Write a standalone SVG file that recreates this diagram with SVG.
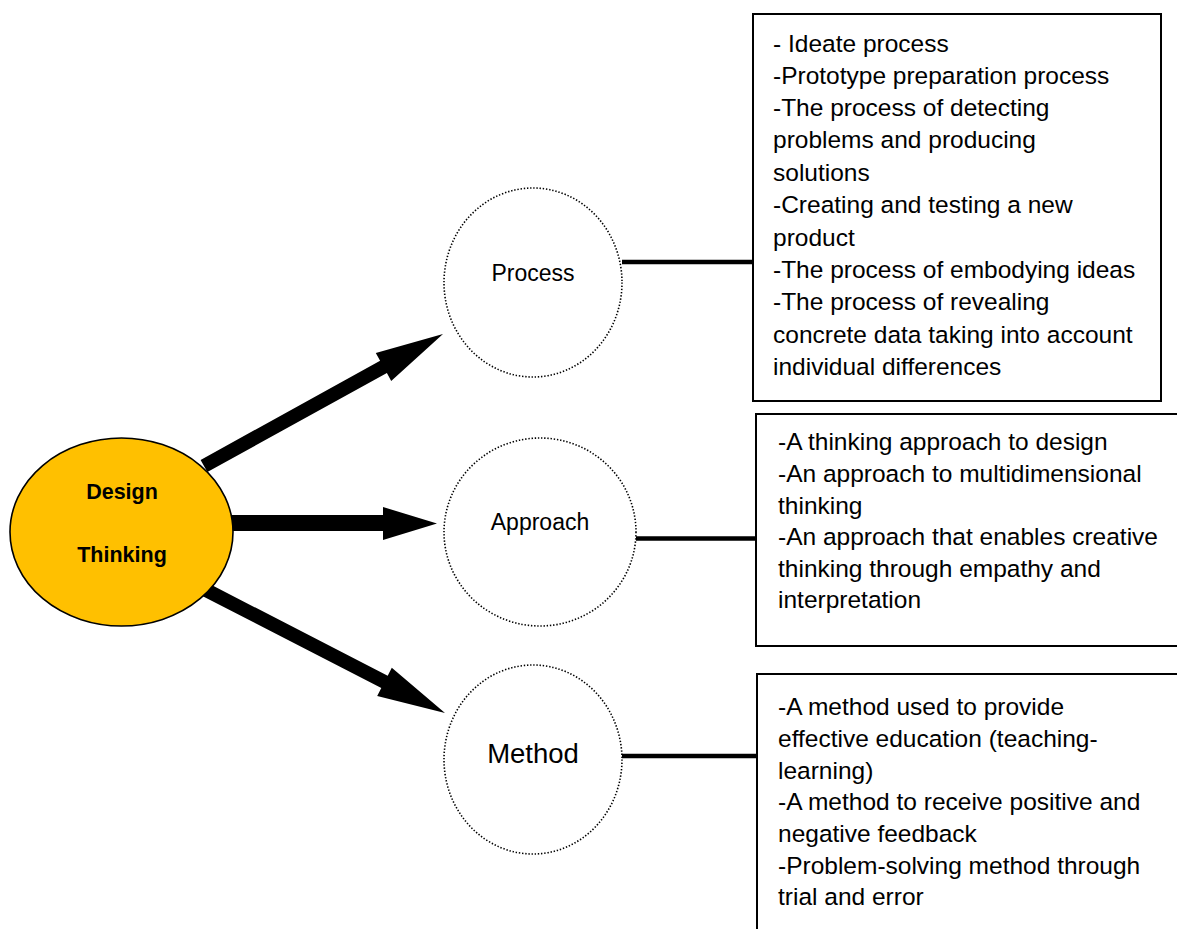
<svg xmlns="http://www.w3.org/2000/svg" width="1177" height="929" viewBox="0 0 1177 929">
<style>
.bg{fill:#ffffff}
.arrow{fill:#000000;stroke:none}
.link{stroke:#000000;stroke-width:4.5;fill:none}
.box{fill:#ffffff;stroke:#000000;stroke-width:2}
.circ{fill:#ffffff;stroke:#000000;stroke-width:1.6;stroke-dasharray:1.4 1.8}
.core{fill:#FFC000;stroke:#000000;stroke-width:1.6}
.t{font-family:"Liberation Sans",Arial,sans-serif;font-size:24.5px;fill:#000000}
.lbl{font-family:"Liberation Sans",Arial,sans-serif;font-size:23px;fill:#000000;text-anchor:middle}
.lblm{font-family:"Liberation Sans",Arial,sans-serif;font-size:27.5px;fill:#000000;text-anchor:middle}
.core-t{font-family:"Liberation Sans",Arial,sans-serif;font-size:21.5px;font-weight:bold;fill:#000000;text-anchor:middle}
</style>
<rect class="bg" x="0" y="0" width="1177" height="929"/>
<g id="connectors">
  <polygon class="arrow" points="200.6,459.9 380.1,360.8 375.8,352.9 443,334 391.2,380.9 386.9,373.0 207.4,472.1"/>
  <polygon class="arrow" points="228,515 383,515 383,507 437,523.5 383,540 383,531 228,531"/>
  <polygon class="arrow" points="209.2,583.8 387.7,675.7 391.8,667.7 445,713 377.2,696.1 381.3,688.1 202.8,596.2"/>
  <line class="link" x1="622" y1="262" x2="755" y2="262"/>
  <line class="link" x1="636" y1="538.5" x2="757" y2="538.5"/>
  <line class="link" x1="622" y1="756" x2="758" y2="756"/>
</g>
<g id="node-design-thinking">
  <ellipse class="core" cx="121.5" cy="532" rx="111.5" ry="94"/>
  <text class="core-t" x="122" y="498.5">Design</text>
  <text class="core-t" x="122" y="561.5">Thinking</text>
</g>
<g id="node-process">
  <ellipse class="circ" cx="533" cy="282.5" rx="89" ry="94.5"/>
  <text class="lbl" x="533" y="281">Process</text>
</g>
<g id="node-approach">
  <ellipse class="circ" cx="540" cy="532" rx="96" ry="94"/>
  <text class="lbl" x="540" y="530">Approach</text>
</g>
<g id="node-method">
  <ellipse class="circ" cx="533" cy="759.5" rx="89" ry="94.5"/>
  <text class="lblm" x="533" y="763">Method</text>
</g>
<g id="box-process">
  <rect class="box" x="753" y="14" width="408" height="387"/>
  <text class="t" x="773" y="52">- Ideate process</text>
  <text class="t" x="773" y="84">-Prototype preparation process</text>
  <text class="t" x="773" y="116">-The process of detecting</text>
  <text class="t" x="773" y="148">problems and producing</text>
  <text class="t" x="773" y="180.5">solutions</text>
  <text class="t" x="773" y="213">-Creating and testing a new</text>
  <text class="t" x="773" y="245.5">product</text>
  <text class="t" x="773" y="278">-The process of embodying ideas</text>
  <text class="t" x="773" y="310">-The process of revealing</text>
  <text class="t" x="773" y="342.5">concrete data taking into account</text>
  <text class="t" x="773" y="374.5">individual differences</text>
</g>
<g id="box-approach">
  <rect class="box" x="756" y="414" width="440" height="232"/>
  <text class="t" x="778" y="450">-A thinking approach to design</text>
  <text class="t" x="778" y="482">-An approach to multidimensional</text>
  <text class="t" x="778" y="513.5">thinking</text>
  <text class="t" x="778" y="545">-An approach that enables creative</text>
  <text class="t" x="778" y="576.5">thinking through empathy and</text>
  <text class="t" x="778" y="608">interpretation</text>
</g>
<g id="box-method">
  <rect class="box" x="757" y="674" width="440" height="280"/>
  <text class="t" x="778" y="715">-A method used to provide</text>
  <text class="t" x="778" y="747">effective education (teaching-</text>
  <text class="t" x="778" y="778.5">learning)</text>
  <text class="t" x="778" y="810">-A method to receive positive and</text>
  <text class="t" x="778" y="842">negative feedback</text>
  <text class="t" x="778" y="873.5">-Problem-solving method through</text>
  <text class="t" x="778" y="905">trial and error</text>
</g>
</svg>
